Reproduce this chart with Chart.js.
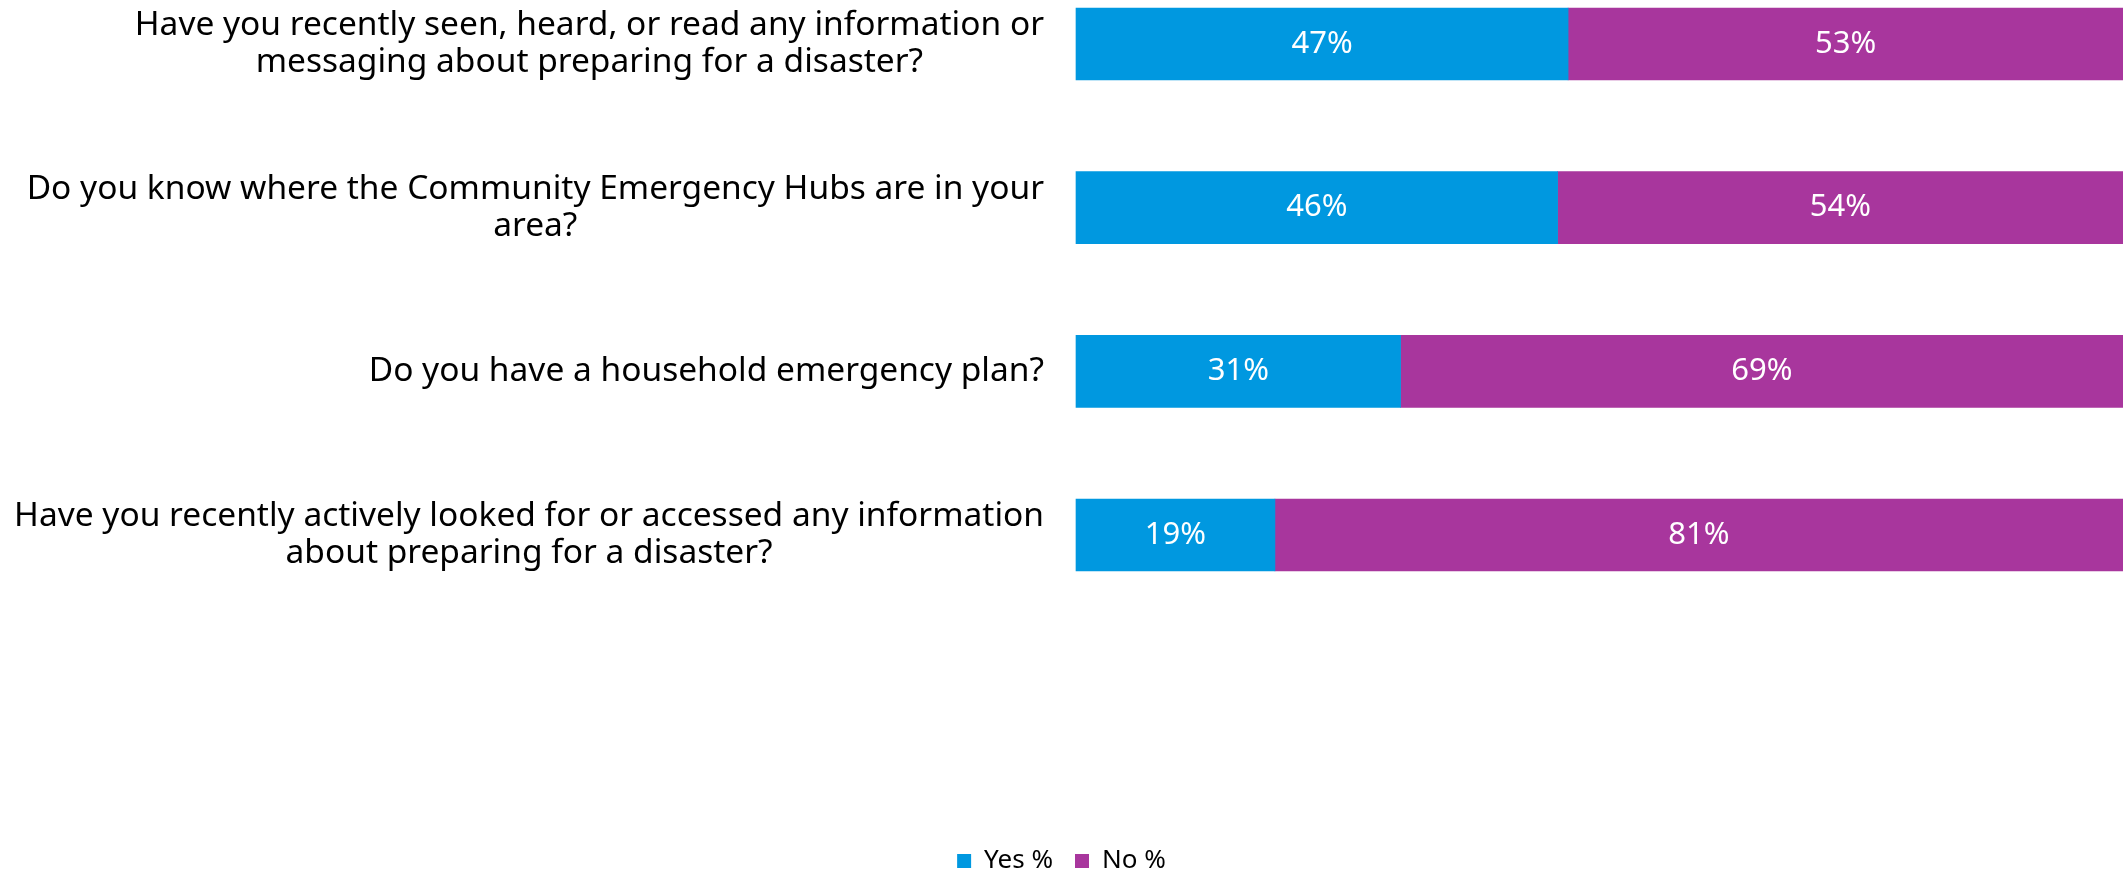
<!DOCTYPE html>
<html>
<head>
<meta charset="utf-8">
<script src="https://cdn.jsdelivr.net/npm/chart.js@4.4.0/dist/chart.umd.min.js"></script>
<style>
    html, body { margin: 0; padding: 0; background: #fff; }
    #wrap { width: 2123px; height: 870px; position: relative; }
</style>
</head>
<body>
<div id="wrap"><canvas id="surveyChart"></canvas></div>
<script>
// 数据
const questions = [
    ['Have you recently seen, heard, or read any information or', 'messaging about preparing for a disaster?'],
    ['Do you know where the Community Emergency Hubs are in your', 'area?'],
    ['Do you have a household emergency plan?'],
    ['Have you recently actively looked for or accessed any information', 'about preparing for a disaster?']
];
const yesValues = [47, 46, 31, 19];
const noValues = [53, 54, 69, 81];
const seriesNames = ['Yes %', 'No %'];

const FONT = '"Noto Sans", sans-serif';

// 左侧问题文字（块右对齐，行居中）
const questionLabels = {
    id: 'questionLabels',
    afterDraw(chart) {
        const ctx = chart.ctx;
        const yScale = chart.scales.y;
        const right = chart.chartArea.left - 32;
        const lineH = 37;
        ctx.save();
        ctx.font = '33.5px ' + FONT;
        ctx.fillStyle = '#000';
        ctx.textAlign = 'center';
        ctx.textBaseline = 'middle';
        questions.forEach((lines, i) => {
            const w = Math.max(...lines.map(l => ctx.measureText(l).width));
            const cx = right - w / 2;
            const cy = yScale.getPixelForValue(i);
            lines.forEach((l, j) => {
                ctx.fillText(l, cx, cy + (j - (lines.length - 1) / 2) * lineH);
            });
        });
        ctx.restore();
    }
};

// 柱内百分比
const barValues = {
    id: 'barValues',
    afterDatasetsDraw(chart) {
        const ctx = chart.ctx;
        ctx.save();
        ctx.font = '31px ' + FONT;
        ctx.fillStyle = '#fff';
        ctx.textAlign = 'center';
        ctx.textBaseline = 'middle';
        chart.data.datasets.forEach((ds, di) => {
            chart.getDatasetMeta(di).data.forEach((bar, i) => {
                const p = bar.getProps(['x', 'y', 'base'], true);
                ctx.fillText(ds.data[i] + '%', (p.x + p.base) / 2, p.y);
            });
        });
        ctx.restore();
    }
};

const ctx = document.getElementById('surveyChart').getContext('2d');
new Chart(ctx, {
    type: 'bar',
    data: {
        labels: questions.map(q => q.join(' ')),
        datasets: [
            { label: seriesNames[0], data: yesValues, backgroundColor: '#0098E0', barThickness: 72, clip: false },
            { label: seriesNames[1], data: noValues, backgroundColor: '#A8369D', barThickness: 72, clip: false }
        ]
    },
    options: {
        indexAxis: 'y',
        responsive: true,
        maintainAspectRatio: false,
        animation: false,
        layout: { padding: { left: 0, right: 0, top: 44, bottom: -14 } },
        scales: {
            x: {
                stacked: true, min: 0, max: 100,
                grid: { display: false },
                border: { display: false },
                ticks: { display: false },
                afterFit: s => { s.height = 291; }
            },
            y: {
                stacked: true, offset: false,
                grid: { display: false },
                border: { display: false },
                ticks: { display: false },
                afterFit: s => { s.width = 1076; }
            }
        },
        plugins: {
            legend: {
                position: 'bottom',
                labels: {
                    boxWidth: 14, boxHeight: 14, padding: 22, color: '#000',
                    font: { size: 26, family: FONT }
                }
            },
            tooltip: { enabled: false }
        }
    },
    plugins: [questionLabels, barValues]
});
</script>
</body>
</html>
